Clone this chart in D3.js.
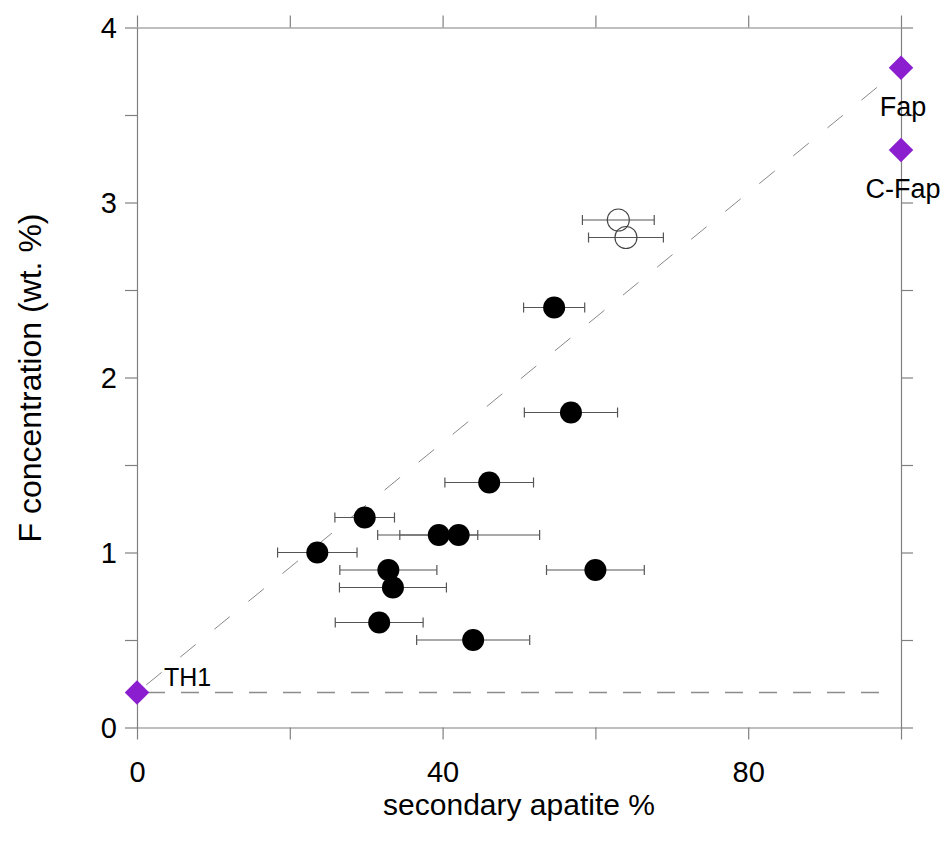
<!DOCTYPE html>
<html>
<head>
<meta charset="utf-8">
<script src="https://cdn.jsdelivr.net/npm/d3@7"></script>
<style>
  html, body { margin: 0; padding: 0; background: #fff; }
  svg { display: block; font-family: "Liberation Sans", Arial, sans-serif; }
</style>
</head>
<body>
<svg id="chart" width="946" height="848"></svg>
<script>
// ---- data ----
const filledX   = [54.6, 56.8, 46.1, 29.8, 39.5, 42.1, 23.6, 32.9, 33.5, 31.7, 44.0, 60.0];
const filledY   = [2.4, 1.8, 1.4, 1.2, 1.1, 1.1, 1.0, 0.9, 0.8, 0.6, 0.5, 0.9];
const filledErr = [4.0, 6.1, 5.8, 3.9, 5.1, 10.6, 5.2, 6.35, 7.0, 5.75, 7.4, 6.4];

const openX   = [63.0, 64.0];
const openY   = [2.9, 2.8];
const openErr = [4.7, 4.9];

const endNames = ["TH1", "Fap", "C-Fap"];
const endX     = [0, 100, 100];
const endY     = [0.2, 3.77, 3.3];

const xTicks      = [0, 20, 40, 60, 80, 100];
const xTickLabels = [0, 40, 80];
const yTicks      = [0, 0.5, 1, 1.5, 2, 2.5, 3, 3.5, 4];
const yTickLabels = [0, 1, 2, 3, 4];

const xTitle = "secondary apatite %";
const yTitle = "F concentration (wt. %)";

// ---- layout ----
const svg = d3.select("#chart");
const x = d3.scaleLinear().domain([0, 100]).range([137, 901]);
const y = d3.scaleLinear().domain([0, 4]).range([727.5, 27.5]);
const axisColor = "#808080";
const tickLen = 12;

const filled = filledX.map((v, i) => ({x: v, y: filledY[i], e: filledErr[i]}));
const open = openX.map((v, i) => ({x: v, y: openY[i], e: openErr[i]}));
const ends = endNames.map((n, i) => ({name: n, x: endX[i], y: endY[i]}));

// axes via d3
const gBottom = svg.append("g").attr("transform", `translate(0,${y(0)})`)
  .call(d3.axisBottom(x).tickValues(xTicks).tickSize(tickLen).tickSizeOuter(0)
        .tickFormat(d => xTickLabels.includes(d) ? d : ""));
const gTop = svg.append("g").attr("transform", `translate(0,${y(4)})`)
  .call(d3.axisTop(x).tickValues(xTicks).tickSize(tickLen).tickSizeOuter(0).tickFormat(""));
const gLeft = svg.append("g").attr("transform", `translate(${x(0)},0)`)
  .call(d3.axisLeft(y).tickValues(yTicks).tickSize(tickLen).tickSizeOuter(0)
        .tickFormat(d => yTickLabels.includes(d) ? d : ""));
const gRight = svg.append("g").attr("transform", `translate(${x(100)},0)`)
  .call(d3.axisRight(y).tickValues(yTicks).tickSize(tickLen).tickSizeOuter(0).tickFormat(""));

[gBottom, gTop, gLeft, gRight].forEach(g => {
  g.selectAll(".domain").attr("stroke", axisColor).attr("stroke-width", 1.2);
  g.selectAll(".tick line").attr("stroke", axisColor).attr("stroke-width", 1.2);
  g.selectAll("text").attr("fill", "#000").attr("font-size", 29)
    .attr("font-family", "Liberation Sans, Arial, sans-serif");
});
gBottom.selectAll("text").attr("dy", null).attr("y", 54);
gLeft.selectAll("text").attr("x", -20).attr("dy", "0.36em");

// dashed lines
svg.append("line")
  .attr("x1", x(0) + 10).attr("y1", y(endY[0]))
  .attr("x2", x(98.8)).attr("y2", y(endY[0]))
  .attr("stroke", "#8c8c8c").attr("stroke-width", 1.3)
  .attr("stroke-dasharray", "18,16");

const t0 = 0.012;
svg.append("line")
  .attr("x1", x(endX[0] + (endX[1] - endX[0]) * t0)).attr("y1", y(endY[0] + (endY[1] - endY[0]) * t0))
  .attr("x2", x(endX[1])).attr("y2", y(endY[1]))
  .attr("stroke", "#7a7a7a").attr("stroke-width", 0.9)
  .attr("stroke-dasharray", "20,24");

// error bars
const allPts = filled.concat(open);
const eb = svg.append("g").attr("stroke", "#555").attr("stroke-width", 1.2);
allPts.forEach(d => {
  eb.append("line").attr("x1", x(d.x - d.e)).attr("x2", x(d.x + d.e))
    .attr("y1", y(d.y)).attr("y2", y(d.y));
  [d.x - d.e, d.x + d.e].forEach(v => {
    eb.append("line").attr("x1", x(v)).attr("x2", x(v))
      .attr("y1", y(d.y) - 5).attr("y2", y(d.y) + 5);
  });
});

// points
svg.append("g").selectAll("circle").data(filled).join("circle")
  .attr("cx", d => x(d.x)).attr("cy", d => y(d.y)).attr("r", 11)
  .attr("fill", "#000");
svg.append("g").selectAll("circle").data(open).join("circle")
  .attr("cx", d => x(d.x)).attr("cy", d => y(d.y)).attr("r", 11)
  .attr("fill", "none").attr("stroke", "#444").attr("stroke-width", 1.1);

// end-members
const diamond = d3.symbol().type(d3.symbolSquare).size(300);
svg.append("g").selectAll("path").data(ends).join("path")
  .attr("d", diamond)
  .attr("transform", d => `translate(${x(d.x)},${y(d.y)}) rotate(45)`)
  .attr("fill", "#8b1fd0");

svg.append("g").selectAll("text").data(ends).join("text")
  .attr("x", d => d.name === "TH1" ? x(d.x) + 27 : x(d.x) + 2)
  .attr("y", d => d.name === "TH1" ? y(d.y) - 7 : y(d.y) + 48)
  .attr("text-anchor", d => d.name === "TH1" ? "start" : "middle")
  .attr("font-size", d => d.name === "TH1" ? 25 : 27)
  .attr("fill", "#000")
  .text(d => d.name);

// titles
svg.append("text").attr("x", 519).attr("y", 815).attr("text-anchor", "middle")
  .attr("font-size", 30).attr("fill", "#000").text(xTitle);
svg.append("text").attr("transform", "translate(41,378) rotate(-90)")
  .attr("text-anchor", "middle").attr("font-size", 32).attr("fill", "#000").text(yTitle);
</script>
</body>
</html>
